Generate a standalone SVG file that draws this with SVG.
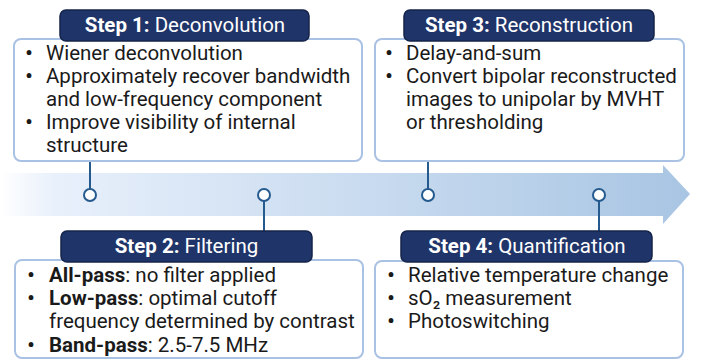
<svg xmlns="http://www.w3.org/2000/svg" width="706" height="360" viewBox="0 0 706 360">
  <style>
    .box { fill: #ffffff; stroke: #a9c2e4; stroke-width: 2; }
    .title { fill: #1f3468; stroke: #15234a; stroke-width: 1.5; }
    .ttl { font-family: Roboto, "Liberation Sans", sans-serif; font-size: 20.5px; fill: #ffffff; text-anchor: middle; }
    .ttl .b { font-weight: bold; }
    .txt { font-family: Roboto, "Liberation Sans", sans-serif; font-size: 20.5px; fill: #1a1a1a; }
    .txt .b { font-weight: bold; }
    .bul { font-weight: bold; text-anchor: middle; }
    .link { stroke: #255a8e; stroke-width: 2; fill: none; }
    .dot { fill: #ffffff; stroke: #255a8e; stroke-width: 2; }
  </style>
  <defs>
    <linearGradient id="flow" x1="0" y1="0" x2="1" y2="0">
      <stop offset="0" stop-color="#ffffff"/>
      <stop offset="0.08" stop-color="#e8f0fb"/>
      <stop offset="1" stop-color="#a8c5e3"/>
    </linearGradient>
  </defs>

  <!-- timeline arrow -->
  <path d="M 0 173 L 663 173 L 663 165 L 690 194 L 663 224 L 663 216 L 0 216 Z" fill="url(#flow)"/>

  <g id="connectors">
    <line class="link" x1="90" y1="161" x2="90" y2="189"/>
    <circle class="dot" cx="90" cy="195" r="6"/>
    <line class="link" x1="264" y1="201" x2="264" y2="231"/>
    <circle class="dot" cx="264" cy="195" r="6"/>
    <line class="link" x1="428" y1="161" x2="428" y2="189"/>
    <circle class="dot" cx="428" cy="195" r="6"/>
    <line class="link" x1="599" y1="201" x2="599" y2="231"/>
    <circle class="dot" cx="599" cy="195" r="6"/>
  </g>

  <g id="step1">
    <rect class="box" x="14" y="39" width="348" height="122" rx="7"/>
    <rect class="title" x="60" y="10" width="249" height="31" rx="6"/>
    <text class="ttl" x="185" y="32"><tspan class="b">Step 1:</tspan> Deconvolution</text>
    <g class="txt">
      <text class="bul" x="29" y="60">•</text><text x="46" y="60">Wiener deconvolution</text>
      <text class="bul" x="29" y="83">•</text><text x="46" y="83">Approximately recover bandwidth</text>
      <text x="46" y="106">and low-frequency component</text>
      <text class="bul" x="29" y="129">•</text><text x="46" y="129">Improve visibility of internal</text>
      <text x="46" y="152">structure</text>
    </g>
  </g>

  <g id="step3">
    <rect class="box" x="375" y="39" width="309" height="122" rx="7"/>
    <rect class="title" x="404" y="10" width="250" height="31" rx="6"/>
    <text class="ttl" x="529" y="32"><tspan class="b">Step 3:</tspan> Reconstruction</text>
    <g class="txt">
      <text class="bul" x="389" y="60">•</text><text x="406" y="60">Delay-and-sum</text>
      <text class="bul" x="389" y="83">•</text><text x="406" y="83">Convert bipolar reconstructed</text>
      <text x="406" y="106">images to unipolar by MVHT</text>
      <text x="406" y="129">or thresholding</text>
    </g>
  </g>

  <g id="step2">
    <rect class="box" x="15" y="260" width="348" height="98" rx="7"/>
    <rect class="title" x="61" y="231" width="251" height="31" rx="6"/>
    <text class="ttl" x="186.5" y="253"><tspan class="b">Step 2:</tspan> Filtering</text>
    <g class="txt">
      <text class="bul" x="31" y="282">•</text><text x="49" y="282"><tspan class="b">All-pass</tspan>: no filter applied</text>
      <text class="bul" x="31" y="305">•</text><text x="49" y="305"><tspan class="b">Low-pass</tspan>: optimal cutoff</text>
      <text x="49" y="328">frequency determined by contrast</text>
      <text class="bul" x="31" y="352">•</text><text x="49" y="352"><tspan class="b">Band-pass</tspan>: 2.5-7.5 MHz</text>
    </g>
  </g>

  <g id="step4">
    <rect class="box" x="375" y="261" width="308" height="97" rx="7"/>
    <rect class="title" x="401" y="231" width="251" height="31" rx="6"/>
    <text class="ttl" x="527" y="253"><tspan class="b">Step 4:</tspan> Quantification</text>
    <g class="txt">
      <text class="bul" x="391" y="282">•</text><text x="408" y="282">Relative temperature change</text>
      <text class="bul" x="391" y="305">•</text><text x="408" y="305">sO₂ measurement</text>
      <text class="bul" x="391" y="328">•</text><text x="408" y="328">Photoswitching</text>
    </g>
  </g>
</svg>
